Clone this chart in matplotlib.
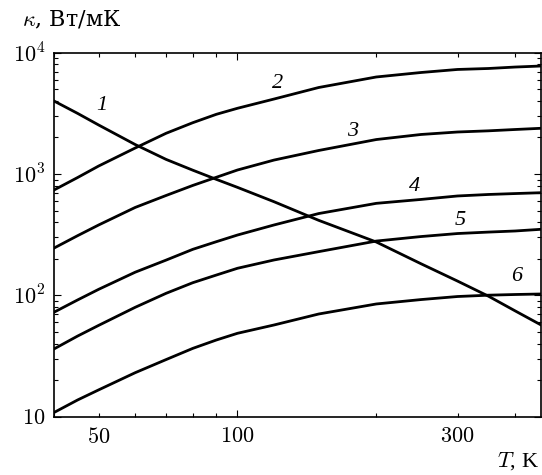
import numpy as np
import matplotlib
matplotlib.use('Agg')
import matplotlib.pyplot as plt
from matplotlib.ticker import NullFormatter, LogLocator

plt.rcParams['mathtext.fontset'] = 'cm'
plt.rcParams['font.family'] = ['Liberation Serif', 'DejaVu Serif']

T = [40, 45, 50, 60, 70, 80, 90, 100, 120, 150, 200, 250, 300, 350, 400, 455]

# thermal conductivity, W/(m K)
kappa_1 = [4000, 3162, 2535, 1750, 1320, 1075, 903, 776, 591, 415, 275, 182, 131, 98.4, 74.4, 57]
kappa_2 = [738, 935, 1164, 1638, 2166, 2649, 3107, 3483, 4151, 5167, 6310, 6870, 7278, 7413, 7620, 7770]
kappa_3 = [245, 310, 380, 530, 665, 805, 940, 1079, 1303, 1563, 1924, 2118, 2220, 2270, 2328, 2382]
kappa_4 = [72.5, 91.5, 112, 155, 195, 239.3, 276.7, 314, 380, 472, 573, 617, 659, 678, 690, 701]
kappa_5 = [36.1, 46.1, 56.5, 79.6, 103.8, 127, 146.9, 167, 195.5, 229, 280, 305, 323, 332, 339, 350]
kappa_6 = [10.8, 13.7, 16.6, 23.0, 29.5, 36.5, 42.8, 48.6, 56.9, 70.1, 84.8, 92.2, 97.7, 100.2, 101.5, 102.5]

curves = [kappa_1, kappa_2, kappa_3, kappa_4, kappa_5, kappa_6]
curve_names = ['1', '2', '3', '4', '5', '6']
# where the curve numbers sit (T, kappa)
name_T = [50.8, 122.3, 177.8, 241.8, 303.4, 403]
name_k = [3640, 5600, 2234, 785, 412, 144]

fig = plt.figure(figsize=(5.42, 4.75), dpi=100)
ax = fig.add_axes([0.0996, 0.123, 0.8984, 0.766])

for k in curves:
    ax.plot(T, k, color='black', lw=2.0, solid_joinstyle='round')

for nm, tx, ky in zip(curve_names, name_T, name_k):
    ax.text(tx, ky, nm, fontsize=16, style='italic', ha='center', va='center')

ax.set_xscale('log')
ax.set_yscale('log')
ax.set_xlim(40, 455)
ax.set_ylim(10, 1e4)

ax.set_xticks([100], ['$100$'])
x_minor = [40, 50, 60, 70, 80, 90, 200, 300, 400]
ax.set_xticks(x_minor, ['$50$' if v == 50 else ('$300$' if v == 300 else '') for v in x_minor], minor=True)

ax.set_yticks([10, 100, 1000, 10000], ['$10$', '$10^2$', '$10^3$', '$10^4$'])
ax.yaxis.set_minor_locator(LogLocator(base=10, subs=np.arange(2, 10)))
ax.yaxis.set_minor_formatter(NullFormatter())

ax.tick_params(which='both', direction='in', top=True, right=True, labelsize=16, width=0.8)
ax.tick_params(which='major', length=5)
ax.tick_params(which='minor', length=3.2)
ax.tick_params(axis='x', which='both', pad=8)
ax.tick_params(axis='y', which='both', pad=6)

for sp in ax.spines.values():
    sp.set_linewidth(1.2)

fig.text(21.7 / 542, 1 - 20 / 475, r'$\kappa$, Вт/мК', fontsize=16, ha='left', va='center',
         family=['DejaVu Serif'])
fig.text(539 / 542, 1 - 461 / 475, r'$T$, K', fontsize=16, ha='right', va='center')

fig.savefig('out.png', dpi=100)
